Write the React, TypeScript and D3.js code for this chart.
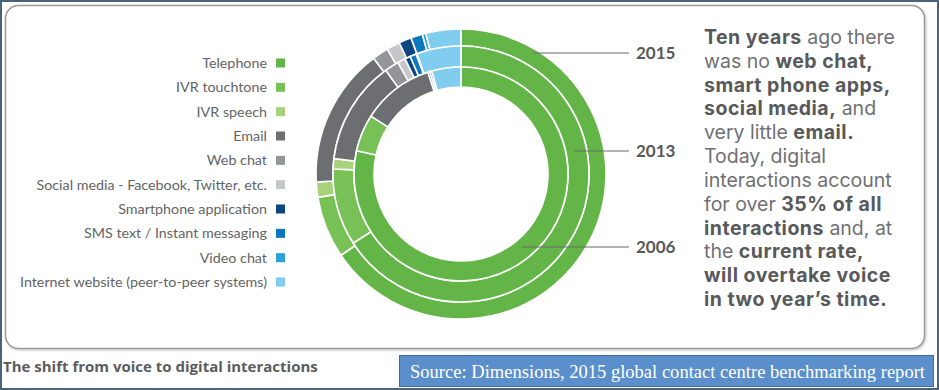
import React from "react";
import * as d3 from "d3";

const categories = [
  "Telephone",
  "IVR touchtone",
  "IVR speech",
  "Email",
  "Web chat",
  "Social media - Facebook, Twitter, etc.",
  "Smartphone application",
  "SMS text / Instant messaging",
  "Video chat",
  "Internet website (peer-to-peer systems)",
];
const colors = [
  "#62b546",
  "#78c156",
  "#a8d17b",
  "#6d6e71",
  "#939598",
  "#c6c7c9",
  "#0d4583",
  "#0b78bd",
  "#2aa2d8",
  "#80cdef",
];
const years = ["2015", "2013", "2006"];
const values2015 = [65.6, 6.9, 1.7, 15.6, 1.8, 1.5, 1.4, 1.3, 0.4, 3.9];
const values2013 = [66.0, 9.7, 1.3, 13.1, 1.8, 1.0, 0.7, 0.8, 0.1, 5.6];
const values2006 = [78.5, 5.6, 0, 10.9, 0, 0, 0.3, 0.3, 0, 4.4];
const seriesValues = [values2015, values2013, values2006];

const paragraph: [string, boolean][][] = [
  [["Ten years", true], [" ago there", false]],
  [["was no ", false], ["web chat,", true]],
  [["smart phone apps,", true]],
  [["social media,", true], [" and", false]],
  [["very little ", false], ["email.", true]],
  [["Today, digital", false]],
  [["interactions account", false]],
  [["for over ", false], ["35% of all", true]],
  [["interactions", true], [" and, at", false]],
  [["the ", false], ["current rate,", true]],
  [["will overtake voice", true]],
  [["in two year\u2019s time.", true]],
];

const footerTitle = "The shift from voice to digital interactions";
const sourceText = "Source: Dimensions, 2015 global contact centre benchmarking report";

export default function App() {
  const W = 939;
  const H = 390;
  const cx = 461;
  const cy = 174;
  // ring radii: outer (2015), middle (2013), inner (2006)
  const ringRadii: [number, number][] = [
    [128, 145],
    [107, 128],
    [87, 107],
  ];
  const pie = d3
    .pie<number>()
    .sort(null)
    .value((d) => d)
    .startAngle(0)
    .endAngle(2 * Math.PI);

  const legendY = d3.scaleLinear().domain([0, categories.length - 1]).range([63, 282]);
  const paraY = d3.scaleLinear().domain([0, paragraph.length - 1]).range([44, 306]);

  const leaderY = [53, 151, 247];
  const leaderR = [141, 116, 95];
  const font = "Lato, 'Open Sans', sans-serif";
  const font2 = "'Open Sans', Lato, sans-serif";
  const font3 = "Inter, 'Open Sans', sans-serif";

  return (
    <svg
      width={W}
      height={H}
      style={{ position: "absolute", left: 0, top: 0, background: "#fff" }}
    >
      <defs>
        <filter id="sh" x="-5%" y="-5%" width="110%" height="110%">
          <feDropShadow dx="1" dy="1" stdDeviation="1" floodColor="#000" floodOpacity="0.25" />
        </filter>
      </defs>
      <rect x={0} y={0} width={W} height={H} fill="#fff" />
      <rect
        x={5.5}
        y={5.5}
        width={919}
        height={343}
        rx={13}
        fill="#fff"
        stroke="#9a9a9d"
        strokeWidth={1.5}
        filter="url(#sh)"
      />

      {/* rings */}
      <g transform={`translate(${cx},${cy})`}>
        {seriesValues.map((vals, ri) => {
          const arc = d3
            .arc<d3.PieArcDatum<number>>()
            .innerRadius(ringRadii[ri][0])
            .outerRadius(ringRadii[ri][1]);
          return (
            <g key={ri}>
              {pie(vals).map((d, i) =>
                d.value > 0 ? (
                  <path
                    key={i}
                    d={arc(d) || ""}
                    fill={colors[i]}
                    stroke="#fff"
                    strokeWidth={1.6}
                  />
                ) : null
              )}
            </g>
          );
        })}
      </g>

      {/* leader lines & year labels */}
      {years.map((y, i) => {
        const ly = leaderY[i];
        const x0 = cx + Math.sqrt(leaderR[i] ** 2 - (ly - cy) ** 2);
        return (
          <g key={y}>
            <line x1={x0} y1={ly} x2={629} y2={ly} stroke="#6b6b6e" strokeWidth={1.2} />
            <text
              x={636}
              y={ly + 6}
              fontFamily={font}
              fontWeight={700}
              fontSize={17}
              fill="#58595b"
            >
              {y}
            </text>
          </g>
        );
      })}

      {/* legend */}
      {categories.map((c, i) => (
        <g key={c}>
          <text
            x={267}
            y={legendY(i) + 5}
            textAnchor="end"
            fontFamily={font}
            fontSize={14.3}
            fill="#636466"
          >
            {c}
          </text>
          <rect x={276} y={legendY(i) - 4.5} width={9} height={9} fill={colors[i]} />
        </g>
      ))}

      {/* paragraph */}
      {paragraph.map((line, i) => (
        <text key={i} x={704} y={paraY(i)} fontFamily={font3} fontSize={19.5}>
          {line.map(([t, b], j) => (
            <tspan
              key={j}
              fontWeight={b ? 700 : 400}
              fill={b ? "#58595b" : "#6f7073"}
              letterSpacing={b ? 0.5 : 0}
            >
              {t}
            </tspan>
          ))}
        </text>
      ))}

      {/* footer */}
      <text
        x={3}
        y={372}
        fontFamily={font2}
        fontWeight={700}
        fontSize={15}
        fill="#5b5c5e"
      >
        {footerTitle}
      </text>
      <rect x={399.5} y={355.5} width={534} height={31} fill="#5b8fcc" stroke="#3f6d9c" strokeWidth={1} />
      <text
        x={410}
        y={378}
        fontFamily="'Liberation Serif', 'Times New Roman', serif"
        fontSize={19}
        fill="#fff"
        textLength={515}
        lengthAdjust="spacingAndGlyphs"
      >
        {sourceText}
      </text>

      {/* outer frame */}
      <rect x={1} y={1} width={W - 2} height={H - 2} fill="none" stroke="#4b6379" strokeWidth={2} />
    </svg>
  );
}
